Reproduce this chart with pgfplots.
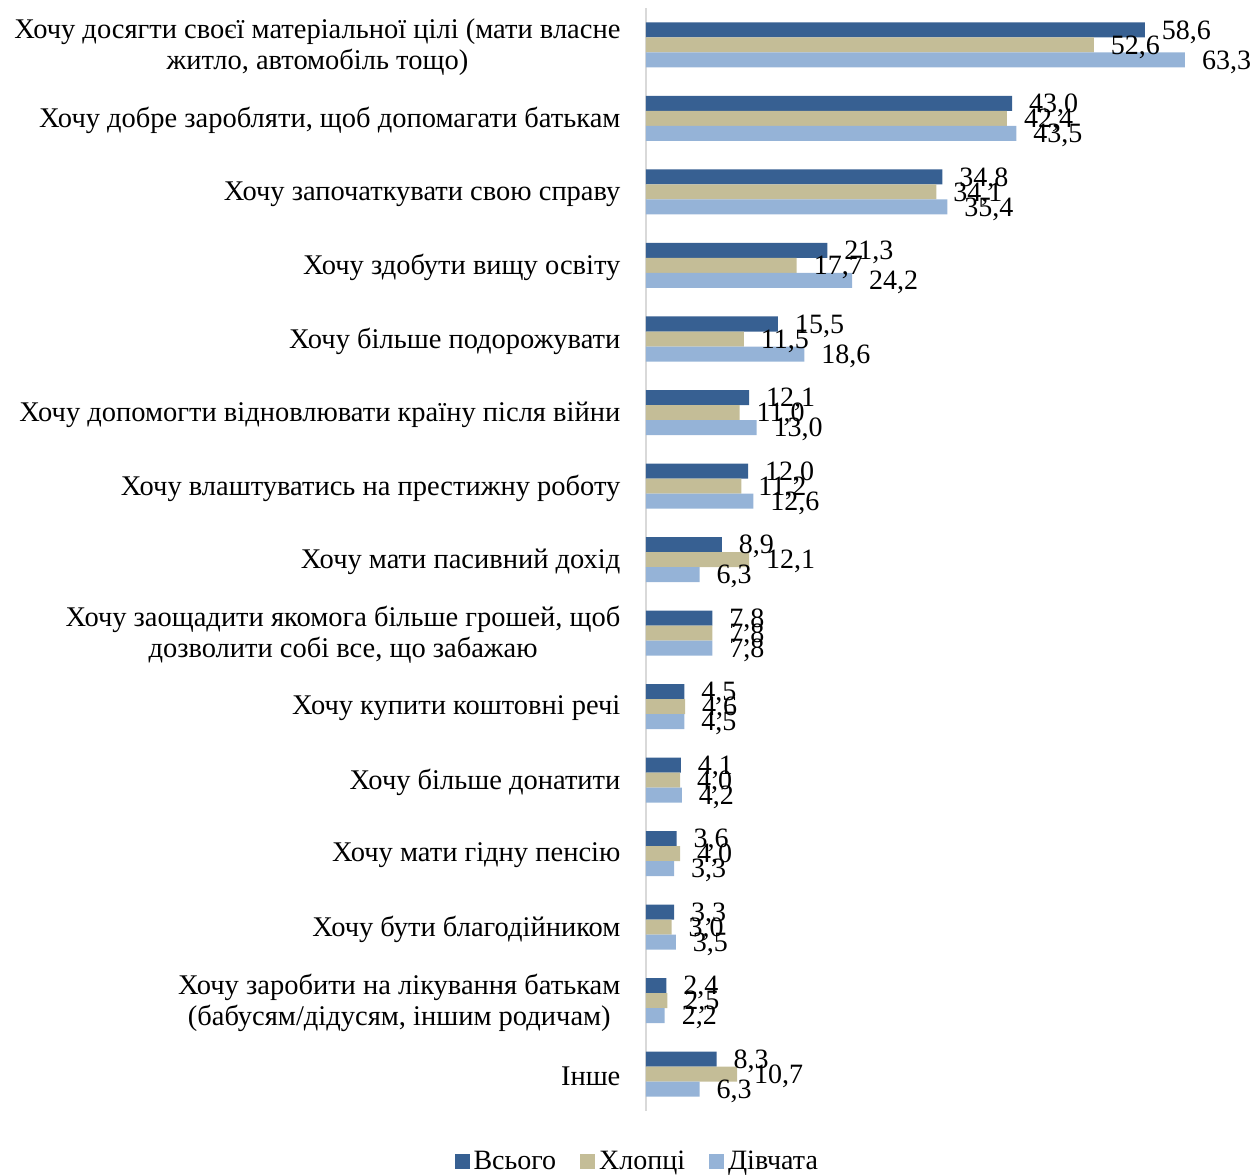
\documentclass[border=0pt]{standalone}
\usepackage{fontspec}
\setmainfont{Liberation Serif}
\usepackage{pgfplots}
\usepackage{pgfplotstable}
\pgfplotsset{compat=1.18}
\usetikzlibrary{calc}

\definecolor{cAll}{HTML}{376092}
\definecolor{cBoys}{HTML}{C4BD97}
\definecolor{cGirls}{HTML}{95B3D7}

% idx 14 = top category, 0 = "Інше"
\pgfplotstableread{
idx all boys girls
14 58.6 52.6 63.3
13 43.0 42.4 43.5
12 34.8 34.1 35.4
11 21.3 17.7 24.2
10 15.5 11.5 18.6
9  12.1 11.0 13.0
8  12.0 11.2 12.6
7  8.9  12.1 6.3
6  7.8  7.8  7.8
5  4.5  4.6  4.5
4  4.1  4.0  4.2
3  3.6  4.0  3.3
2  3.3  3.0  3.5
1  2.4  2.5  2.2
0  8.3  10.7 6.3
}\datatable

\begin{document}
\begin{tikzpicture}
\begin{axis}[
    scale only axis,
    width=298pt, height=551.25pt,
    xbar, bar width=7.5pt,
    xmin=0, xmax=70,
    ymin=-0.5, ymax=14.5,
    axis x line=none,
    axis y line*=left,
    y axis line style={draw=black!15, line width=0.8pt, -},
    ytick={0,...,14},
    ytick style={draw=none},
    yticklabels={
      Інше,
      {Хочу заробити на лікування батькам\\(бабусям/дідусям, іншим родичам)},
      Хочу бути благодійником,
      Хочу мати гідну пенсію,
      Хочу більше донатити,
      Хочу купити коштовні речі,
      {Хочу заощадити якомога більше грошей, щоб\\дозволити собі все, що забажаю},
      Хочу мати пасивний дохід,
      Хочу влаштуватись на престижну роботу,
      Хочу допомогти відновлювати країну після війни,
      Хочу більше подорожувати,
      Хочу здобути вищу освіту,
      Хочу започаткувати свою справу,
      {Хочу добре заробляти, щоб допомагати батькам},
      {Хочу досягти своєї матеріальної цілі (мати власне\\житло, автомобіль тощо)}
    },
    yticklabel style={align=center, font=\fontsize{14.25}{15.5}\selectfont, xshift=-5pt, yshift=-1pt},
    nodes near coords,
    nodes near coords style={anchor=west, xshift=5pt, yshift=-1pt, font=\fontsize{14}{15}\selectfont,
      /pgf/number format/.cd, fixed, fixed zerofill, precision=1, use comma, assume math mode=true},
    legend columns=-1,
    legend style={draw=none, at={(-0.013,-0.046)}, anchor=center,
      font=\fontsize{14}{15}\selectfont,
      /tikz/every even column/.append style={column sep=10pt}},
    legend image code/.code={\fill[#1] (0pt,-3.75pt) rectangle (7.5pt,3.75pt);},
]
\addplot[draw=none, fill=cAll, bar shift=7.5pt] table[x=all, y=idx] {\datatable};
\addplot[draw=none, fill=cBoys, bar shift=0pt] table[x=boys, y=idx] {\datatable};
\addplot[draw=none, fill=cGirls, bar shift=-7.5pt] table[x=girls, y=idx] {\datatable};
\legend{Всього, Хлопці, Дівчата}
\end{axis}
\pgfresetboundingbox
\path ($(current axis.north west)+(-323pt,4.125pt)$) rectangle ++(626.5pt,-587.5pt);
\end{tikzpicture}
\end{document}
